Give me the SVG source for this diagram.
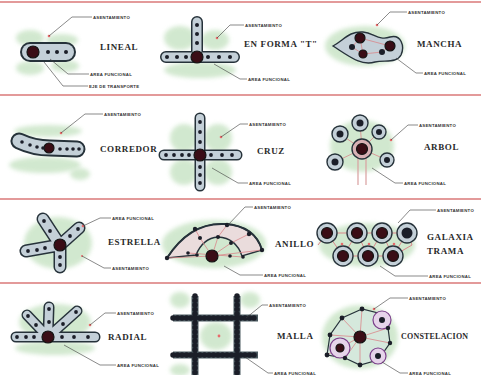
<svg xmlns="http://www.w3.org/2000/svg" width="481" height="375" viewBox="0 0 481 375">
<defs>
<filter id="soft" x="-30%" y="-30%" width="160%" height="160%"><feGaussianBlur stdDeviation="2.2"/></filter>
<style>
.sep{stroke:#e39a9a;stroke-width:2}
.grn{fill:#cde6ca;opacity:.9;filter:url(#soft)}
.ao{fill:none;stroke:#26323a;stroke-width:12;stroke-linecap:round;stroke-linejoin:round}
.ai{fill:none;stroke:#c4d0d8;stroke-width:9;stroke-linecap:round;stroke-linejoin:round}
.dot{fill:#1b1e28}
.big{fill:#3a0d16;stroke:#141414;stroke-width:1.2}
.red{fill:#e86b6b}
.pk{fill:none;stroke:#d9868a;stroke-width:.8}
.ld{fill:none;stroke:#3a3a3a;stroke-width:.6}
.lb{font-family:"Liberation Sans",Arial,sans-serif;font-size:4.3px;font-weight:bold;letter-spacing:.25px;fill:#333}
.tt{font-family:"Liberation Serif","Times New Roman",serif;font-size:9px;font-weight:bold;letter-spacing:.6px;fill:#2a2a2a}
.nd{fill:#c4d0d8;stroke:#26323a;stroke-width:1.4}
.chain{fill:none;stroke:#1b1e28;stroke-width:5.5;stroke-linecap:round;stroke-dasharray:0 4.5}
.chainb{fill:none;stroke:#4b5a60;stroke-width:7}
.pur{fill:#e6d4ea;stroke:#7a3f8a;stroke-width:1.2}
</style>
</defs>
<g id="separators">
<line class="sep" x1="0" y1="2" x2="481" y2="2"/>
<line class="sep" x1="0" y1="95" x2="481" y2="95"/>
<line class="sep" x1="0" y1="199" x2="481" y2="199"/>
<line class="sep" x1="0" y1="283" x2="481" y2="283"/>
</g>

<g id="lineal">
<ellipse class="grn" cx="30" cy="38" rx="14" ry="8"/>
<ellipse class="grn" cx="62" cy="40" rx="16" ry="6"/>
<ellipse class="grn" cx="30" cy="68" rx="14" ry="7"/>
<ellipse class="grn" cx="65" cy="66" rx="14" ry="6"/>
<line class="ao" x1="30" y1="52" x2="66" y2="52" style="stroke-width:20"/>
<line class="ai" x1="30" y1="52" x2="66" y2="52" style="stroke-width:16"/>
<circle class="big" cx="33" cy="52" r="6"/>
<circle class="dot" cx="48" cy="52" r="2"/><circle class="dot" cx="57" cy="52" r="2"/><circle class="dot" cx="66" cy="52" r="2"/>
<circle class="red" cx="49" cy="36" r="1.3"/>
<text class="tt" x="100" y="50">LINEAL</text>
</g>

<g id="t-form">
<ellipse class="grn" cx="180" cy="38" rx="16" ry="12"/>
<ellipse class="grn" cx="215" cy="40" rx="14" ry="10"/>
<ellipse class="grn" cx="200" cy="70" rx="36" ry="8"/>
<path class="ao" d="M197,22 V57 M166,57 H234"/>
<path class="ai" d="M197,22 V57 M166,57 H234"/>
<circle class="big" cx="197" cy="57" r="6"/>
<g class="dot"><circle cx="167" cy="57" r="2"/><circle cx="177" cy="57" r="2"/><circle cx="186" cy="57" r="2"/><circle cx="208" cy="57" r="2"/><circle cx="219" cy="57" r="2"/><circle cx="230" cy="57" r="2"/><circle cx="197" cy="25" r="2"/><circle cx="197" cy="34" r="2"/><circle cx="197" cy="43" r="2"/></g>
<circle class="red" cx="217" cy="38" r="1.3"/>
<text class="tt" x="244" y="47">EN FORMA "T"</text>
</g>

<g id="mancha">
<ellipse class="grn" cx="365" cy="46" rx="40" ry="20"/>
<path d="M333,46 C344,40 349,31 363,32 C374,33 379,41 390,37 C401,34 405,46 401,55 C397,63 386,60 375,62 C361,66 350,57 333,46 Z" fill="#c4d0d8" stroke="#26323a" stroke-width="1.4"/>
<path class="pk" d="M360,38 L352,47 L363,54 L382,52 L390,46 L360,38 L363,54"/>
<circle class="big" cx="360" cy="38" r="5"/><circle class="dot" cx="352" cy="47" r="3"/><circle class="big" cx="363" cy="54" r="4"/><circle class="dot" cx="382" cy="52" r="3"/><circle class="big" cx="390" cy="46" r="5"/>
<circle class="red" cx="377" cy="25" r="1.3"/>
<text class="tt" x="417" y="47">MANCHA</text>
</g>

<g id="corredor">
<ellipse class="grn" cx="48" cy="131" rx="34" ry="6"/>
<ellipse class="grn" cx="45" cy="165" rx="36" ry="8"/>
<ellipse class="grn" cx="80" cy="174" rx="10" ry="6"/>
<path class="ao" d="M19,141 Q34,148 50,148 L77,149" style="stroke-width:17"/>
<path class="ai" d="M19,141 Q34,148 50,148 L77,149" style="stroke-width:13"/>
<circle class="big" cx="49" cy="148" r="5"/>
<g class="dot"><circle cx="22" cy="142" r="1.8"/><circle cx="30" cy="145" r="1.8"/><circle cx="37" cy="147" r="1.8"/><circle cx="43" cy="148" r="1.8"/><circle cx="60" cy="149" r="1.8"/><circle cx="67" cy="149" r="1.8"/><circle cx="73" cy="149" r="1.8"/><circle cx="79" cy="149" r="1.8"/></g>
<circle class="red" cx="61" cy="133" r="1.3"/>
<text class="tt" x="100" y="152">CORREDOR</text>
</g>

<g id="cruz">
<ellipse class="grn" cx="184" cy="138" rx="14" ry="14"/>
<ellipse class="grn" cx="218" cy="138" rx="14" ry="14"/>
<ellipse class="grn" cx="184" cy="172" rx="14" ry="13"/>
<ellipse class="grn" cx="218" cy="172" rx="14" ry="13"/>
<path class="ao" d="M200,118 V186 M164,155 H237" style="stroke-width:11"/>
<path class="ai" d="M200,118 V186 M164,155 H237" style="stroke-width:8"/>
<circle class="big" cx="200" cy="155" r="6"/>
<g class="dot"><circle cx="166" cy="155" r="1.9"/><circle cx="174" cy="155" r="1.9"/><circle cx="182" cy="155" r="1.9"/><circle cx="189" cy="155" r="1.9"/><circle cx="211" cy="155" r="1.9"/><circle cx="222" cy="155" r="1.9"/><circle cx="232" cy="155" r="1.9"/><circle cx="200" cy="122" r="1.9"/><circle cx="200" cy="132" r="1.9"/><circle cx="200" cy="142" r="1.9"/><circle cx="200" cy="167" r="1.9"/><circle cx="200" cy="175" r="1.9"/><circle cx="200" cy="183" r="1.9"/></g>
<circle class="red" cx="221" cy="137" r="1.3"/>
<text class="tt" x="257" y="154">CRUZ</text>
</g>

<g id="arbol">
<ellipse class="grn" cx="362" cy="146" rx="32" ry="26"/>
<path d="M358,158 V185 M366,158 V185" fill="none" stroke="#d9a0a0" stroke-width="1.2"/>
<path class="pk" d="M362,149 L360,123 M362,149 L340,134 M362,149 L379,132 M362,149 L335,162 M362,149 L387,160"/>
<g><circle class="nd" cx="360" cy="123" r="8"/><circle class="dot" cx="360" cy="123" r="3.5"/></g>
<g><circle class="nd" cx="340" cy="134" r="8"/><circle class="dot" cx="340" cy="134" r="3.5"/></g>
<g><circle class="nd" cx="379" cy="132" r="7"/><circle class="dot" cx="379" cy="132" r="3"/></g>
<g><circle class="nd" cx="335" cy="162" r="8"/><circle class="dot" cx="335" cy="162" r="3.5"/></g>
<g><circle class="nd" cx="387" cy="160" r="7"/><circle class="dot" cx="387" cy="160" r="3"/></g>
<g><circle class="nd" cx="362" cy="149" r="10" style="fill:#d8b0b4"/><circle class="big" cx="362" cy="149" r="5.5"/></g>
<circle class="red" cx="391" cy="140" r="1.3"/>
<text class="tt" x="424" y="150">ARBOL</text>
</g>

<g id="estrella">
<ellipse class="grn" cx="58" cy="243" rx="34" ry="26"/>
<path class="ao" d="M43,219 L60,245 L79,228 M26,251 L60,245 L60,267" style="stroke-width:13"/>
<path class="ai" d="M43,219 L60,245 L79,228 M26,251 L60,245 L60,267" style="stroke-width:10"/>
<circle class="big" cx="60" cy="245" r="6"/>
<g class="dot"><circle cx="44" cy="221" r="1.9"/><circle cx="50" cy="231" r="1.9"/><circle cx="70" cy="236" r="1.9"/><circle cx="78" cy="229" r="1.9"/><circle cx="28" cy="251" r="1.9"/><circle cx="37" cy="250" r="1.9"/><circle cx="45" cy="248" r="1.9"/><circle cx="60" cy="257" r="1.9"/><circle cx="60" cy="265" r="1.9"/></g>
<circle class="red" cx="83" cy="226" r="1.3"/>
<circle class="red" cx="82" cy="256" r="1"/>
<text class="tt" x="108" y="245">ESTRELLA</text>
</g>

<g id="anillo">
<ellipse class="grn" cx="214" cy="244" rx="52" ry="24"/>
<path d="M167,258 Q190,222 225,224 Q255,226 262,250 L242,256 Q236,238 218,237 Q203,238 196,255 Z" fill="#eadcdc" stroke="#26323a" stroke-width="1.4"/>
<path class="pk" d="M167,258 L212,256 L262,250 M195,229 L200,238 L212,256 M227,225 L218,237 L212,256 M249,234 L231,243 L212,256 M188,253 L243,257"/>
<path d="M167,258 Q190,222 225,224 Q255,226 262,250" fill="none" stroke="#26323a" stroke-width="2"/>
<circle class="big" cx="212" cy="256" r="6"/>
<g class="dot"><circle cx="167" cy="258" r="2.2"/><circle cx="195" cy="229" r="2.2"/><circle cx="227" cy="225" r="2.2"/><circle cx="249" cy="234" r="2.2"/><circle cx="262" cy="250" r="2.2"/><circle cx="200" cy="238" r="2"/><circle cx="218" cy="237" r="2"/><circle cx="231" cy="243" r="2"/><circle cx="188" cy="253" r="1.8"/><circle cx="197" cy="255" r="1.8"/><circle cx="230" cy="256" r="1.8"/><circle cx="243" cy="257" r="1.8"/></g>
<text class="tt" x="275" y="247">ANILLO</text>
</g>

<g id="galaxia">
<ellipse class="grn" cx="367" cy="245" rx="48" ry="22"/>
<path class="pk" d="M327,233 L343,256 L357,233 L368,256 L382,233 L393,256 L407,233 M327,233 H407 M343,256 H393 M318,245 L327,233 M407,233 L412,245 L393,256" style="stroke-width:1"/>
<g><circle class="nd" cx="327" cy="233" r="10"/><circle class="big" cx="327" cy="233" r="5.5"/></g>
<g><circle class="nd" cx="357" cy="233" r="10"/><circle class="big" cx="357" cy="233" r="5.5"/></g>
<g><circle class="nd" cx="382" cy="233" r="10"/><circle class="big" cx="382" cy="233" r="5.5"/></g>
<g><circle class="nd" cx="407" cy="233" r="10"/><circle class="dot" cx="407" cy="233" r="5.5"/></g>
<g><circle class="nd" cx="343" cy="256" r="10"/><circle class="big" cx="343" cy="256" r="5.5"/></g>
<g><circle class="nd" cx="368" cy="256" r="10"/><circle class="big" cx="368" cy="256" r="5.5"/></g>
<g><circle class="nd" cx="393" cy="256" r="10"/><circle class="big" cx="393" cy="256" r="5.5"/></g>
<g class="red"><circle cx="342" cy="244" r="1.3"/><circle cx="369" cy="244" r="1.3"/><circle cx="394" cy="244" r="1.3"/></g>
<text class="tt" x="427" y="240">GALAXIA</text>
<text class="tt" x="427" y="254">TRAMA</text>
</g>

<g id="radial">
<ellipse class="grn" cx="55" cy="322" rx="36" ry="18"/>
<ellipse class="grn" cx="55" cy="348" rx="40" ry="7"/>
<path class="ao" d="M16,337 H95 M48,337 L27,315 M48,337 L49,307 M48,337 L77,311" style="stroke-width:11"/>
<path class="ai" d="M16,337 H95 M48,337 L27,315 M48,337 L49,307 M48,337 L77,311" style="stroke-width:8"/>
<circle class="big" cx="48" cy="337" r="6"/>
<g class="dot"><circle cx="17" cy="337" r="1.9"/><circle cx="26" cy="337" r="1.9"/><circle cx="34" cy="337" r="1.9"/><circle cx="62" cy="337" r="1.9"/><circle cx="74" cy="337" r="1.9"/><circle cx="88" cy="337" r="1.9"/><circle cx="28" cy="316" r="1.9"/><circle cx="36" cy="325" r="1.9"/><circle cx="49" cy="309" r="1.9"/><circle cx="49" cy="322" r="1.9"/><circle cx="76" cy="312" r="1.9"/><circle cx="63" cy="324" r="1.9"/></g>
<circle class="red" cx="90" cy="325" r="1.3"/>
<text class="tt" x="108" y="340">RADIAL</text>
</g>

<g id="malla">
<ellipse class="grn" cx="216" cy="336" rx="16" ry="14"/>
<ellipse class="grn" cx="180" cy="300" rx="10" ry="8"/>
<ellipse class="grn" cx="250" cy="300" rx="10" ry="8"/>
<ellipse class="grn" cx="180" cy="370" rx="10" ry="6"/>
<path class="chainb" d="M173,318 H258 M173,355 H258 M195,296 V375 M237,296 V375"/>
<path class="chain" d="M173,318 H258 M173,355 H258 M195,296 V375 M237,296 V375"/>
<circle class="red" cx="219" cy="336" r="1.4"/>
<text class="tt" x="277" y="339">MALLA</text>
</g>

<g id="constelacion">
<ellipse class="grn" cx="360" cy="337" rx="38" ry="32"/>
<polygon points="362,309 342,318 330,335 327,355 345,358 360,365 378,360 390,343 388,328 382,314" fill="#d5e8dc" stroke="#26323a" stroke-width="1.2"/>
<path class="pk" d="M360,337 L362,309 M360,337 L342,318 M360,337 L330,335 M360,337 L327,355 M360,337 L345,358 M360,337 L360,365 M360,337 L390,343 M360,337 L388,328"/>
<g><circle class="pur" cx="340" cy="348" r="10"/><circle class="big" cx="340" cy="348" r="4"/></g>
<g><circle class="pur" cx="382" cy="320" r="9"/><circle class="dot" cx="382" cy="320" r="3"/></g>
<g><circle class="pur" cx="378" cy="356" r="8"/><circle class="dot" cx="378" cy="356" r="3"/></g>
<circle class="big" cx="360" cy="337" r="6"/>
<g class="dot"><circle cx="362" cy="309" r="2.4"/><circle cx="342" cy="318" r="2.4"/><circle cx="330" cy="335" r="2.4"/><circle cx="327" cy="355" r="2.4"/><circle cx="345" cy="358" r="2.2"/><circle cx="360" cy="365" r="2.4"/><circle cx="390" cy="343" r="2.2"/><circle cx="388" cy="328" r="2.2"/></g>
<circle class="red" cx="374" cy="309" r="1.3"/>
<text class="tt" x="401" y="339" style="font-size:8px;letter-spacing:.2px">CONSTELACION</text>
</g>

<g id="connectors">
<path class="ld" d="M49,36 L72,17 H92"/><text class="lb" x="93" y="18.5">ASENTAMIENTO</text>
<path class="ld" d="M50,59 L68,74 H89"/><text class="lb" x="90" y="75.5">AREA FUNCIONAL</text>
<path class="ld" d="M44,62 L63,86 H88"/><text class="lb" x="89" y="87.5">EJE DE TRANSPORTE</text>
<path class="ld" d="M217,38 L230,25 H244"/><text class="lb" x="245" y="26.5">ASENTAMIENTO</text>
<path class="ld" d="M214,64 L240,79 H247"/><text class="lb" x="248" y="80.5">AREA FUNCIONAL</text>
<path class="ld" d="M377,25 L390,12 H407"/><text class="lb" x="408" y="13.5">ASENTAMIENTO</text>
<path class="ld" d="M396,58 L416,73 H423"/><text class="lb" x="424" y="74.5">AREA FUNCIONAL</text>
<path class="ld" d="M61,133 L85,114 H103"/><text class="lb" x="104" y="115.5">ASENTAMIENTO</text>
<path class="ld" d="M221,137 L240,124 H248"/><text class="lb" x="249" y="125.5">ASENTAMIENTO</text>
<path class="ld" d="M212,168 L238,183 H248"/><text class="lb" x="249" y="184.5">AREA FUNCIONAL</text>
<path class="ld" d="M391,140 L408,125 H418"/><text class="lb" x="419" y="126.5">ASENTAMIENTO</text>
<path class="ld" d="M372,168 L395,183 H403"/><text class="lb" x="404" y="184.5">AREA FUNCIONAL</text>
<path class="ld" d="M83,226 L100,218 H111"/><text class="lb" x="112" y="219.5">AREA FUNCIONAL</text>
<path class="ld" d="M82,256 L104,268 H111"/><text class="lb" x="112" y="269.5">ASENTAMIENTO</text>
<path class="ld" d="M228,225 L245,207 H253"/><text class="lb" x="254" y="208.5">ASENTAMIENTO</text>
<path class="ld" d="M224,266 L240,275 H263"/><text class="lb" x="264" y="276.5">AREA FUNCIONAL</text>
<path class="ld" d="M398,223 L410,210 H436"/><text class="lb" x="437" y="211.5">ASENTAMIENTO</text>
<path class="ld" d="M380,266 L395,276 H428"/><text class="lb" x="429" y="277.5">AREA FUNCIONAL</text>
<path class="ld" d="M90,325 L105,313 H116"/><text class="lb" x="117" y="314.5">ASENTAMIENTO</text>
<path class="ld" d="M64,345 L100,365 H116"/><text class="lb" x="117" y="366.5">AREA FUNCIONAL</text>
<path class="ld" d="M246,318 L262,305 H268"/><text class="lb" x="269" y="306.5">ASENTAMIENTO</text>
<path class="ld" d="M245,357 L268,373 H273"/><text class="lb" x="274" y="374.5">AREA FUNCIONAL</text>
<path class="ld" d="M374,309 L390,298 H408"/><text class="lb" x="409" y="299.5">ASENTAMIENTO</text>
<path class="ld" d="M382,362 L400,373 H408"/><text class="lb" x="409" y="374.5">AREA FUNCIONAL</text>
</g>
</svg>
